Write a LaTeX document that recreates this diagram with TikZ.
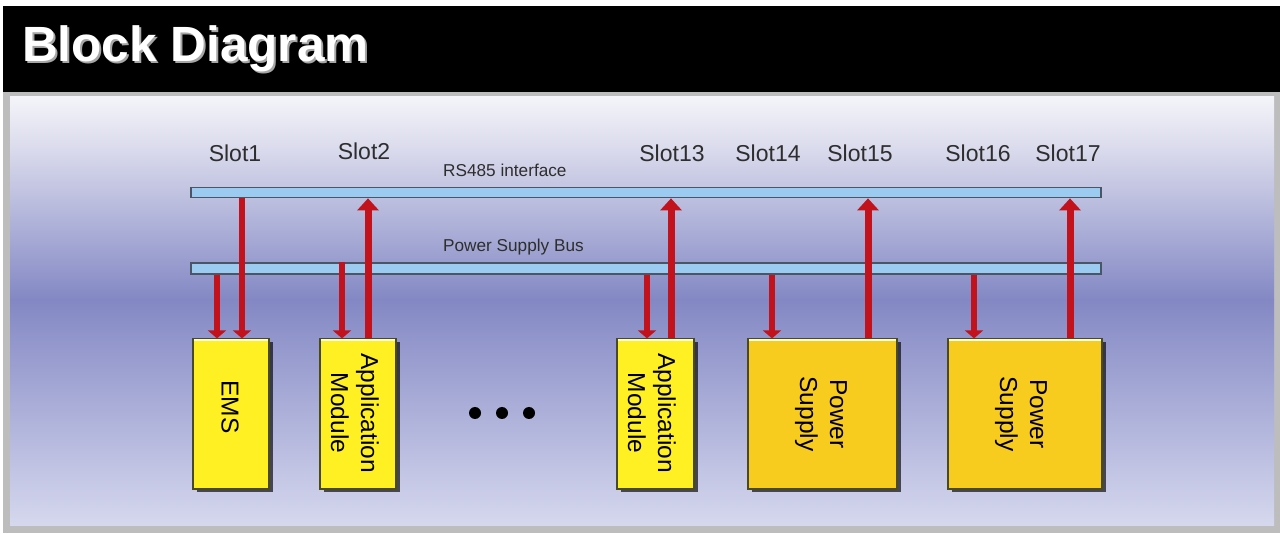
\documentclass[tikz,border=0pt]{standalone}
\usepackage{fontspec}
\setmainfont{Liberation Sans}
\usetikzlibrary{arrows.meta,shadows}
\definecolor{bgA}{HTML}{F4F4F9}
\definecolor{bgB}{HTML}{D9DAEC}
\definecolor{bgC}{HTML}{8388C4}
\definecolor{bgD}{HTML}{D6D8EE}
\definecolor{frame}{HTML}{BDBDBD}
\definecolor{busfill}{HTML}{9CCBF1}
\definecolor{busedge}{HTML}{4A5566}
\definecolor{arrred}{HTML}{C2121C}
\definecolor{ylw}{HTML}{FFF023}
\definecolor{ora}{HTML}{F8CB1F}
\definecolor{boxedge}{HTML}{4A4A22}
\definecolor{txtgray}{HTML}{2E2E2E}
\begin{document}
\begin{tikzpicture}[x=1pt,y=-1pt,
  bus/.style={draw=busedge, fill=busfill, line width=1.2pt, rectangle, inner sep=0pt, minimum width=910pt},
  slotlbl/.style={font=\fontsize{23}{27}\selectfont, text=txtgray, inner sep=0pt},
  buslbl/.style={font=\fontsize{17.2}{20}\selectfont, text=txtgray, inner sep=0pt, anchor=west},
  ybox/.style={draw=boxedge, line width=1.2pt, rectangle, inner sep=0pt, minimum height=150pt,
     drop shadow={shadow xshift=3.5pt, shadow yshift=-3.5pt, fill=black, opacity=.65}},
  boxtxt/.style={rotate=-90, font=\fontsize{24.5}{30}\selectfont, text=black, align=center, inner sep=0pt},
  uparr/.style={draw=arrred, line width=7pt, -{Triangle[width=21pt,length=12pt]}},
  dnarr/.style={draw=arrred, line width=6.5pt, -{Triangle[width=18pt,length=8pt]}},
  dot/.style={circle, fill=black, inner sep=0pt, minimum size=12pt}
]
\useasboundingbox (0,0) rectangle (1286,534);
\fill[white] (0,0) rectangle (1286,534);
% title bar
\fill[black] (3,6) rectangle (1280,92);
\node[anchor=base west, inner sep=0pt, text=gray!70, font=\bfseries\fontsize{49.5}{55}\selectfont] (titleshadow) at (24,64) {Block Diagram};
\node[anchor=base west, inner sep=0pt, text=white, font=\bfseries\fontsize{49.5}{55}\selectfont] (title) at (22,62) {Block Diagram};
% panel
\fill[frame] (3,92) rectangle (1280,533);
\shade[top color=bgA, bottom color=bgB] (10,97) rectangle (1274,150);
\shade[top color=bgB, bottom color=bgC] (10,149.5) rectangle (1274,300);
\shade[top color=bgC, bottom color=bgD] (10,299.5) rectangle (1274,526);
% slot labels
\node[slotlbl] (s1) at (235,153) {Slot1};
\node[slotlbl] (s2) at (364,151) {Slot2};
\node[slotlbl] (s13) at (672,153) {Slot13};
\node[slotlbl] (s14) at (768,153) {Slot14};
\node[slotlbl] (s15) at (860,153) {Slot15};
\node[slotlbl] (s16) at (978,153) {Slot16};
\node[slotlbl] (s17) at (1068,153) {Slot17};
% buses
\node[bus, minimum height=10.5pt] (rs) at (646,192.5) {};
\node[bus, minimum height=11pt] (ps) at (646,268.5) {};
\node[buslbl] (rslbl) at (443,170) {RS485 interface};
\node[buslbl] (pslbl) at (443,247) {Power Supply Bus};
% boxes
\node[ybox, fill=ylw, minimum width=76pt] (ems) at (231,414) {};
\node[ybox, fill=ylw, minimum width=76pt] (app1) at (358,414) {};
\node[ybox, fill=ylw, minimum width=77pt] (app2) at (655.5,414) {};
\node[ybox, fill=ora, minimum width=149pt] (ps1) at (822.5,414) {};
\node[ybox, fill=ora, minimum width=154pt] (ps2) at (1025,414) {};
\foreach \b in {ems,app1,app2,ps1,ps2}{
  \draw[white!85!yellow, line width=1.5pt] ([xshift=1.5pt,yshift=-1.6pt]\b.north west) -- ([xshift=-1.5pt,yshift=-1.6pt]\b.north east);
}
\node[boxtxt] (emst) at (230,407) {EMS};
\node[boxtxt] (app1t) at (355,413) {Application\\Module};
\node[boxtxt] (app2t) at (652,413) {Application\\Module};
\node[boxtxt] (ps1t) at (821,414) {Power\\Supply};
\node[boxtxt] (ps2t) at (1021,414) {Power\\Supply};
% arrow columns
\coordinate (c1a) at (217,0);
\coordinate (c1b) at (242,0);
\coordinate (c2a) at (342,0);
\coordinate (c2b) at (368,0);
\coordinate (c13a) at (647,0);
\coordinate (c13b) at (671,0);
\coordinate (c14) at (772,0);
\coordinate (c15) at (868,0);
\coordinate (c16) at (974,0);
\coordinate (c17) at (1070,0);
\draw[dnarr] (ps.south -| c1a) -- (ems.north -| c1a);
\draw[dnarr] (rs.south -| c1b) -- (ems.north -| c1b);
\draw[dnarr] (ps.north -| c2a) -- (app1.north -| c2a);
\draw[uparr] (app1.north -| c2b) -- (rs.south -| c2b);
\draw[dnarr] (ps.south -| c13a) -- (app2.north -| c13a);
\draw[uparr] (app2.north -| c13b) -- (rs.south -| c13b);
\draw[dnarr] (ps.south -| c14) -- (ps1.north -| c14);
\draw[uparr] (ps1.north -| c15) -- (rs.south -| c15);
\draw[dnarr] (ps.south -| c16) -- (ps2.north -| c16);
\draw[uparr] (ps2.north -| c17) -- (rs.south -| c17);
% dots
\node[dot] (d1) at (475,413) {};
\node[dot] (d2) at (502,413) {};
\node[dot] (d3) at (529,413) {};
\end{tikzpicture}
\end{document}
